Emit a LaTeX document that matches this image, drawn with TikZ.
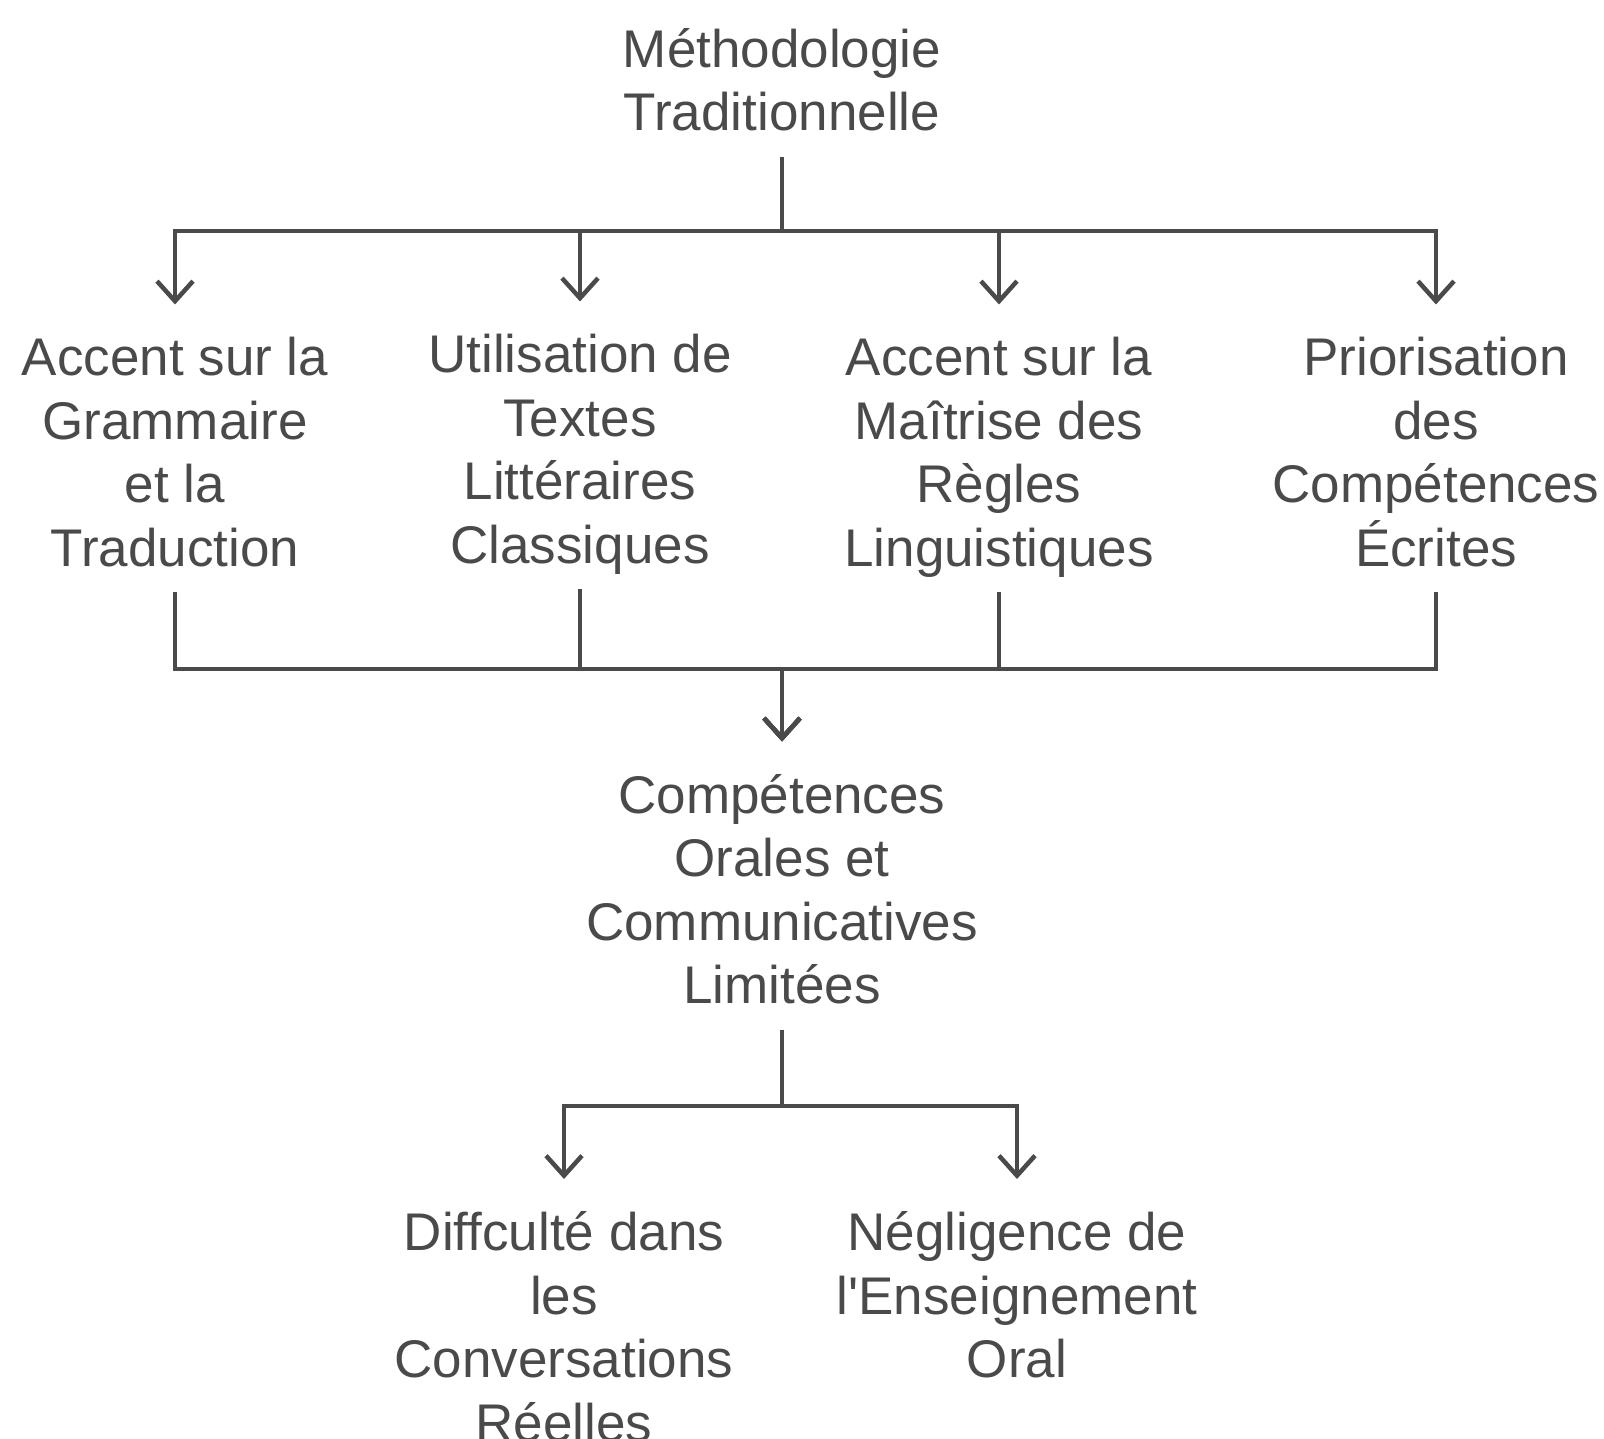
\documentclass[tikz,border=0pt]{standalone}
\usepackage{fontspec}
\setmainfont{Liberation Sans}
\usetikzlibrary{arrows.meta}
\definecolor{ink}{HTML}{4A4A4A}
\begin{document}
\begin{tikzpicture}[x=1pt,y=-1pt,
  txt/.style={anchor=north, align=center, inner sep=0pt, text=ink,
    font=\fontsize{53}{63.5}\selectfont,
    execute at begin node=\strut, execute at end node=\strut},
  link/.style={draw=ink, line width=4.5pt, shorten <=7pt},
  arr/.style={link, -{Straight Barb[length=20pt,width=36pt]}, shorten >=32.5pt}]
\useasboundingbox (0,0) rectangle (1604,1439);
\fill[white] (0,0) rectangle (1604,1439);

% text blocks
\node[txt] (top) at (782,28) {Méthodologie\\Traditionnelle};
\node[txt] (c1) at (175,337) {Accent sur la\\Grammaire\\et la\\Traduction};
\node[txt] (c2) at (580,334) {Utilisation de\\Textes\\Littéraires\\Classiques};
\node[txt] (c3) at (999,337) {Accent sur la\\Maîtrise des\\Règles\\Linguistiques};
\node[txt] (c4) at (1436,337) {Priorisation\\des\\Compétences\\Écrites};
\node[txt] (mid) at (782,774) {Compétences\\Orales et\\Communicatives\\Limitées};
\node[txt] (d1) at (564,1211.5) {Diffculté dans\\les\\Conversations\\Réelles};
\node[txt] (d2) at (1017,1211.5) {Négligence de\\l\textquotesingle Enseignement\\Oral};

% junction points of the branching lines
\coordinate (bus1) at (782,231);
\coordinate (bus2) at (782,669);
\coordinate (bus3) at (782,1106);

% connectors
\foreach \c in {c1,c2,c3,c4}
  \draw[arr] (top.south) |- (bus1) -| (\c.north);
\foreach \c in {c1,c2,c3,c4}
  \draw[arr] (\c.south) |- (bus2) -- (mid.north);
\foreach \c in {d1,d2}
  \draw[arr] (mid.south) |- (bus3) -| (\c.north);
\end{tikzpicture}
\end{document}
